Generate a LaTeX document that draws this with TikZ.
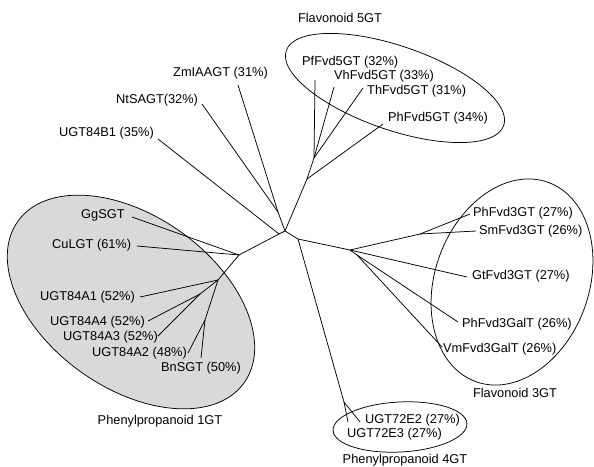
\documentclass[tikz,border=0pt]{standalone}
\usepackage{fontspec}
\setmainfont{Liberation Sans}

\begin{document}
\begin{tikzpicture}[x=1pt, y=-1pt,
  leaf/.style={inner sep=0pt, anchor=west, font=\fontsize{12.8}{14}\selectfont},
  grouplbl/.style={inner sep=0pt, font=\fontsize{12.8}{14}\selectfont},
  branch/.style={draw=black, line width=0.75pt},
  clade/.style={draw=black, line width=0.75pt},
  shadedclade/.style={clade, fill=black!15}
]
  \useasboundingbox (0,0) rectangle (594,466);

  \draw[shadedclade, rotate around={-35.5:(131,302)}] (131,302) ellipse [x radius=139pt, y radius=86pt];
  \draw[clade, rotate around={-19:(395,88)}]  (395,88)  ellipse [x radius=115pt, y radius=42pt];
  \draw[clade, rotate around={-20:(512,282)}] (512,282) ellipse [x radius=77pt, y radius=106pt];
  \draw[clade, rotate around={3:(400,427)}]   (400,427) ellipse [x radius=67pt, y radius=25pt];

  \node[leaf] (zm)   at (173,73)  {ZmIAAGT (31\%)};
  \node[leaf] (nt)   at (116,100) {NtSAGT(32\%)};
  \node[leaf] (b1)   at (59,133)  {UGT84B1 (35\%)};
  \node[leaf] (gg)   at (81,215)  {GgSGT};
  \node[leaf] (cu)   at (52,245)  {CuLGT (61\%)};
  \node[leaf] (a1)   at (40,297)  {UGT84A1 (52\%)};
  \node[leaf] (a4)   at (50,322)  {UGT84A4 (52\%)};
  \node[leaf] (a3)   at (63,337)  {UGT84A3 (52\%)};
  \node[leaf] (a2)   at (92,353)  {UGT84A2 (48\%)};
  \node[leaf] (bn)   at (161,368) {BnSGT (50\%)};
  \node[leaf] (pf5)  at (302,62)  {PfFvd5GT (32\%)};
  \node[leaf] (vh5)  at (334,76)  {VhFvd5GT (33\%)};
  \node[leaf] (th5)  at (367,91)  {ThFvd5GT (31\%)};
  \node[leaf] (ph5)  at (388,118) {PhFvd5GT (34\%)};
  \node[leaf] (ph3)  at (473,213) {PhFvd3GT (27\%)};
  \node[leaf] (sm3)  at (479,231) {SmFvd3GT (26\%)};
  \node[leaf] (gt3)  at (472,276) {GtFvd3GT (27\%)};
  \node[leaf] (phg)  at (462,324) {PhFvd3GalT (26\%)};
  \node[leaf] (vmg)  at (443,349) {VmFvd3GalT (26\%)};
  \node[leaf] (e2)   at (365,420) {UGT72E2 (27\%)};
  \node[leaf] (e3)   at (347,434) {UGT72E3 (27\%)};

  \node[grouplbl] (fl5) at (340,18)  {Flavonoid 5GT};
  \node[grouplbl] (fl3) at (515,393) {Flavonoid 3GT};
  \node[grouplbl] (pp4) at (405,460) {Phenylpropanoid 4GT};
  \node[grouplbl] (pp1) at (160,421) {Phenylpropanoid 1GT};

  \coordinate (tzm)  at (238,85);
  \coordinate (tnt)  at (202,104);
  \coordinate (tb1)  at (158,139);
  \coordinate (tgg)  at (132,217);
  \coordinate (tcu)  at (137,246);
  \coordinate (ta1)  at (140,297);
  \coordinate (ta4)  at (148,321);
  \coordinate (ta3)  at (158,336);
  \coordinate (ta2)  at (188,353);
  \coordinate (tbn)  at (201,358);
  \coordinate (tpf5) at (315,80);
  \coordinate (tvh5) at (334,87);
  \coordinate (tth5) at (363,88);
  \coordinate (tph5) at (383,124);
  \coordinate (tph3) at (470,214);
  \coordinate (tsm3) at (476,231);
  \coordinate (tgt3) at (467,277);
  \coordinate (tphg) at (458,322);
  \coordinate (tvmg) at (442,347);
  \coordinate (te2)  at (360,422);
  \coordinate (te3)  at (348,422);

  \coordinate (root) at (285,231);
  \coordinate (ntzm) at (278,212);
  \coordinate (b1j)  at (279,234);
  \coordinate (fb)   at (307,179);
  \coordinate (fa)   at (314,158);
  \coordinate (d)    at (298,239);
  \coordinate (e)    at (350,250);
  \coordinate (f)    at (420,234);
  \coordinate (gal)  at (357,255);
  \coordinate (q)    at (344,402);
  \coordinate (g)    at (239,255);
  \coordinate (h)    at (218,280);
  \coordinate (j)    at (200,294);
  \coordinate (k)    at (205,320);

  \draw[branch] (root) -- (ntzm);
  \draw[branch] (ntzm) -- (tzm);
  \draw[branch] (ntzm) -- (tnt);
  \draw[branch] (root) -- (b1j) -- (g);
  \draw[branch] (b1j)  -- (tb1);
  \draw[branch] (g)    -- (tgg);
  \draw[branch] (g)    -- (tcu);
  \draw[branch] (g)    -- (h);
  \draw[branch] (h)    -- (ta1);
  \draw[branch] (h)    -- (j);
  \draw[branch] (j)    -- (ta4);
  \draw[branch] (j)    -- (ta3);
  \draw[branch] (h)    -- (k);
  \draw[branch] (k)    -- (ta2);
  \draw[branch] (k)    -- (tbn);

  \draw[branch] (root) -- (fb);
  \draw[branch] (fb)   -- (tph5);
  \draw[branch] (fb)   -- (fa);
  \draw[branch] (fa)   -- (tpf5);
  \draw[branch] (fa)   -- (tvh5);
  \draw[branch] (fa)   -- (tth5);

  \draw[branch] (root) -- (d);
  \draw[branch] (d)    -- (e);
  \draw[branch] (e)    -- (f);
  \draw[branch] (f)    -- (tph3);
  \draw[branch] (f)    -- (tsm3);
  \draw[branch] (e)    -- (tgt3);
  \draw[branch] (e)    -- (gal);
  \draw[branch] (gal)  -- (tphg);
  \draw[branch] (gal)  -- (tvmg);
  \draw[branch] (d)    -- (q);
  \draw[branch] (q)    -- (te2);
  \draw[branch] (q)    -- (te3);
\end{tikzpicture}
\end{document}
